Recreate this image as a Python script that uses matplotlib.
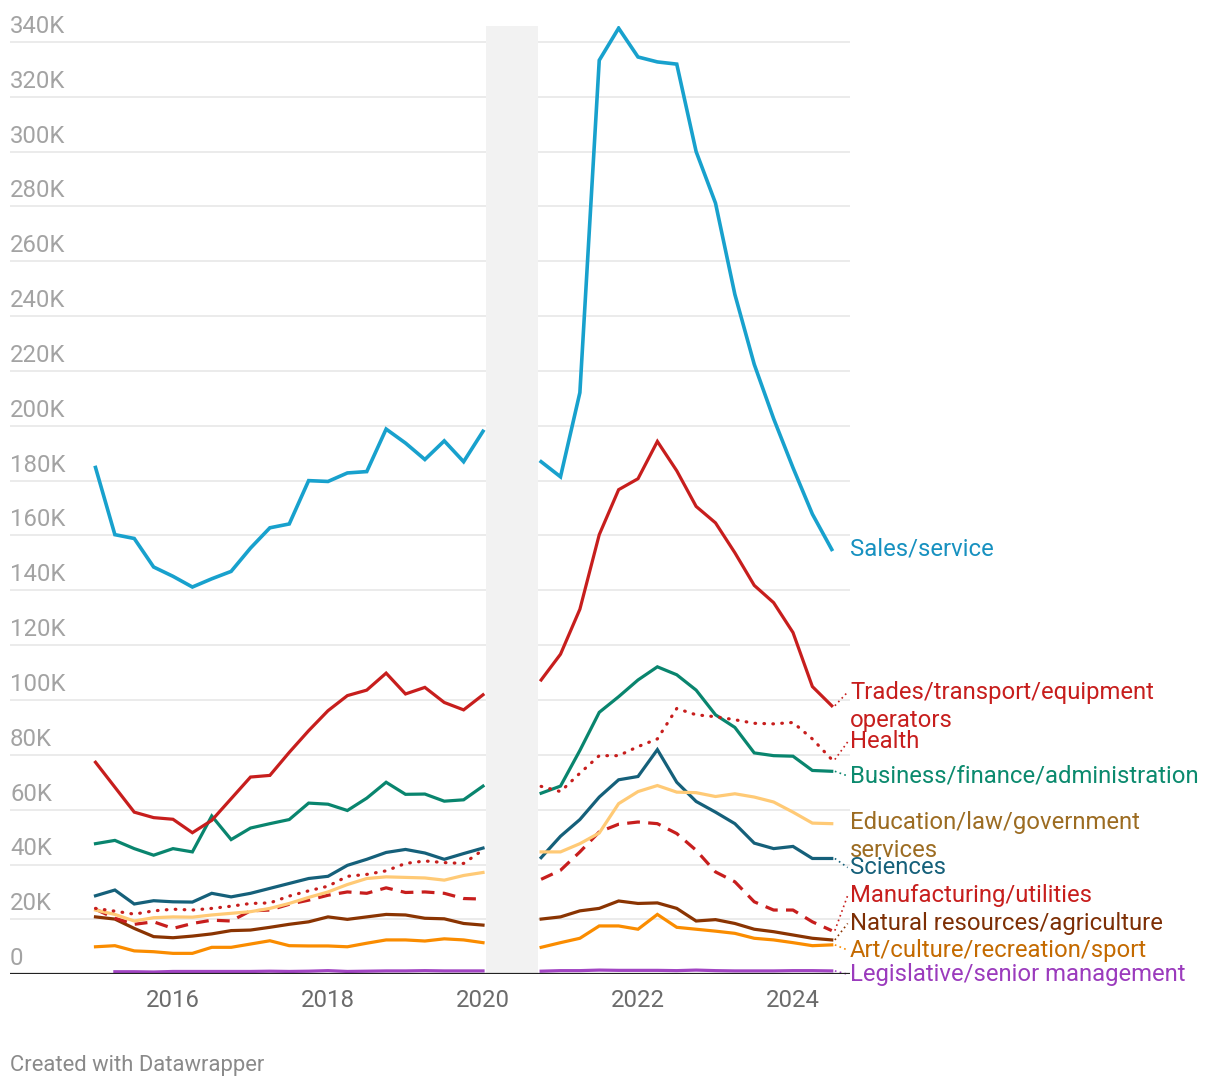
import numpy as np
import matplotlib.pyplot as plt
import matplotlib.transforms as mtransforms

plt.rcParams['font.family'] = ['Roboto', 'DejaVu Sans']

# quarterly data, 2015 Q1 .. 2024 Q3 (2020 Q2-Q3 missing)
quarters = np.arange(2015.0, 2024.51, 0.25)
NA = np.nan

sales = [184.8, 160.3, 158.9, 148.5, 145.1, 141.2, 144.2, 146.9, 155.4, 162.8, 164.2,
         180.0, 179.7, 182.8, 183.3, 198.8, 193.7, 187.7, 194.5, 186.9, 198.0, NA, NA,
         186.9, 181.4, 212.1, 333.3, 345.0, 334.5, 332.7, 331.9, 300.0, 281.2, 247.9,
         222.4, 202.6, 184.7, 167.8, 154.9]
trades = [77.3, 68.2, 59.1, 57.1, 56.5, 51.6, 56.1, 64.0, 71.9, 72.5, 80.9,
          88.8, 96.1, 101.6, 103.6, 109.8, 102.2, 104.6, 99.1, 96.4, 101.9, NA, NA,
          107.3, 116.7, 133.1, 160.3, 176.7, 180.7, 194.3, 183.6, 170.6, 164.6, 153.7,
          141.8, 135.5, 124.6, 104.9, 97.9]
health = [24.0, 23.0, 21.9, 23.1, 23.7, 23.4, 24.0, 24.8, 25.8, 26.0, 28.5,
          30.4, 32.1, 35.7, 36.4, 37.7, 40.4, 41.3, 40.7, 40.4, 45.3, NA, NA,
          68.5, 66.6, 73.3, 79.7, 79.7, 83.0, 85.8, 96.9, 94.6, 93.9, 92.8,
          91.5, 91.3, 91.8, 85.8, 78.3]
business = [47.6, 48.8, 45.8, 43.4, 45.8, 44.6, 57.7, 49.1, 53.3, 54.9, 56.4,
            62.4, 62.0, 59.7, 64.2, 70.0, 65.6, 65.7, 63.1, 63.6, 68.6, NA, NA,
            66.0, 68.6, 81.6, 95.5, 101.2, 107.3, 112.1, 109.2, 103.6, 94.6, 90.0,
            80.7, 79.7, 79.5, 74.3, 74.0]
education = [23.4, 21.8, 19.4, 20.6, 20.9, 20.8, 21.6, 22.2, 22.8, 24.0, 25.8,
             28.0, 30.0, 32.7, 34.9, 35.5, 35.3, 35.1, 34.3, 36.0, 37.1, NA, NA,
             44.6, 44.6, 47.6, 51.5, 62.2, 66.6, 68.8, 66.4, 66.2, 64.8, 65.8,
             64.6, 62.8, 59.1, 55.1, 54.9]
sciences = [28.6, 30.7, 25.6, 26.8, 26.4, 26.3, 29.5, 28.2, 29.5, 31.3, 33.1,
            34.9, 35.7, 39.7, 41.9, 44.4, 45.5, 44.2, 41.9, 44.0, 46.0, NA, NA,
            42.5, 50.3, 56.4, 64.6, 70.9, 72.1, 81.9, 70.0, 63.0, 59.1, 54.9,
            47.8, 45.8, 46.6, 42.2, 42.2]
manufacturing = [23.7, 20.4, 18.2, 19.1, 16.7, 18.5, 19.7, 19.4, 23.1, 23.4, 25.5,
                 27.0, 28.8, 30.0, 29.5, 31.5, 29.8, 30.0, 29.5, 27.6, 27.4, NA, NA,
                 34.6, 37.9, 44.6, 51.9, 54.7, 55.5, 54.9, 51.3, 45.2, 37.3, 33.7,
                 26.4, 23.4, 23.4, 19.1, 15.9]
natural = [20.9, 20.1, 16.7, 13.7, 13.3, 13.9, 14.7, 15.9, 16.1, 17.1, 18.2,
           19.1, 20.9, 20.0, 20.9, 21.8, 21.6, 20.4, 20.2, 18.5, 17.9, NA, NA,
           20.1, 20.9, 23.1, 24.0, 26.7, 25.8, 26.0, 24.0, 19.4, 19.9, 18.5,
           16.4, 15.5, 14.3, 13.1, 12.5]
art = [10.0, 10.4, 8.5, 8.2, 7.6, 7.6, 9.8, 9.8, 11.0, 12.2, 10.4,
       10.3, 10.3, 10.0, 11.3, 12.5, 12.5, 12.1, 12.9, 12.5, 11.5, NA, NA,
       9.8, 11.5, 13.1, 17.6, 17.6, 16.4, 21.8, 17.1, 16.4, 15.7, 14.9,
       13.1, 12.5, 11.5, 10.4, 10.7]
legislative = [NA, 0.9, 0.9, 0.8, 1.0, 1.0, 1.0, 1.0, 1.0, 1.1, 1.0,
               1.1, 1.3, 1.0, 1.1, 1.2, 1.2, 1.3, 1.2, 1.2, 1.2, NA, NA,
               1.1, 1.3, 1.3, 1.5, 1.4, 1.4, 1.4, 1.3, 1.5, 1.3, 1.2,
               1.2, 1.2, 1.3, 1.3, 1.2]

y_ticks = np.arange(0, 341, 20)
x_ticks = [2016, 2018, 2020, 2022, 2024]

# name, values, line colour, label colour, line style, label y (K, first line)
series = [
    ('Sales/service', sales, '#18a1cd', '#1791c0', '-', 155),
    ('Trades/transport/equipment\noperators', trades, '#c71e1d', '#c71e1d', '-', 102.9),
    ('Health', health, '#c71e1d', '#c71e1d', ':', 84.7),
    ('Business/finance/administration', business, '#09856e', '#0b8a6e', '-', 72.3),
    ('Education/law/government\nservices', education, '#ffca76', '#9c6c22', '-', 55.5),
    ('Sciences', sciences, '#15607a', '#15607a', '-', 38.9),
    ('Manufacturing/utilities', manufacturing, '#c71e1d', '#c71e1d', '--', 28.7),
    ('Natural resources/agriculture', natural, '#8a3402', '#7d2f05', '-', 18.5),
    ('Art/culture/recreation/sport', art, '#fa8c00', '#c46a00', '-', 8.8),
    ('Legislative/senior management', legislative, '#a245c3', '#9b3bbd', '-', 0.0),
]

fig = plt.figure(figsize=(12.2, 10.92), dpi=100)
ax = fig.add_axes([10 / 1220, 1 - 974.2 / 1092, 840 / 1220, (974.2 - 26) / 1092])

x0 = 2016 + (10 - 173) / 77.5
x1 = 2016 + (850 - 173) / 77.5
ax.set_xlim(x0, x1)
ax.set_ylim(0, 345.8)

for s in ax.spines.values():
    s.set_visible(False)

for v in y_ticks[1:]:
    ax.axhline(v, color='#e5e5e5', lw=1.1, zorder=0)
ax.axhline(0, color='#222222', lw=1.6, zorder=5)

ax.axvspan(2020.04, 2020.71, color='#f2f2f2', zorder=0.5, lw=0)

trans = mtransforms.blended_transform_factory(ax.transAxes, ax.transData)
for v in y_ticks:
    lab = '0' if v == 0 else f'{v}K'
    ax.annotate(lab, (0, v), xycoords=trans, xytext=(0, 6.5), textcoords='offset points',
                ha='left', va='baseline', fontsize=17.2, color='#a3a3a3')
ax.set_yticks([])

ax.set_xticks(x_ticks)
ax.set_xticklabels([str(t) for t in x_ticks], fontsize=17.2, color='#6b6b6b')
ax.tick_params(axis='x', length=0, pad=11)

lab_x = 2016 + (850 - 173) / 77.5
line_step = 28 / 54.85 * 20  # 28 px between label lines, in K
for name, vals, col, lcol, ls, ly in reversed(series):
    vals = np.array(vals, dtype=float)
    lw = 2.6 if name == 'Sales/service' else 2.3
    kw = dict(color=col, lw=lw, solid_joinstyle='miter', zorder=3)
    if ls == '--':
        ln, = ax.plot(quarters, vals, **kw)
        ln.set_dashes((4, 2.6))
    elif ls == ':':
        ln, = ax.plot(quarters, vals, dash_capstyle='round', **kw)
        ln.set_dashes((0.2, 2.6))
    else:
        ax.plot(quarters, vals, **kw)
    # dotted connector from line end to label when label is displaced
    last = vals[-1]
    if abs(last - ly) > 0.8:
        ax.plot([quarters[-1] + 0.04, lab_x - 0.03], [last, ly], color=col, lw=1.2,
                ls=(0, (1, 2)), clip_on=False, zorder=3)
    for i, part in enumerate(name.split('\n')):
        ax.text(lab_x, ly - i * line_step, part, fontsize=17.2, color=lcol,
                ha='left', va='center', clip_on=False)

fig.text(10 / 1220, 1 - 1066 / 1092, 'Created with Datawrapper', fontsize=15.8,
         color='#8a8a8a', ha='left', va='center')

fig.savefig('out.png', dpi=100)
